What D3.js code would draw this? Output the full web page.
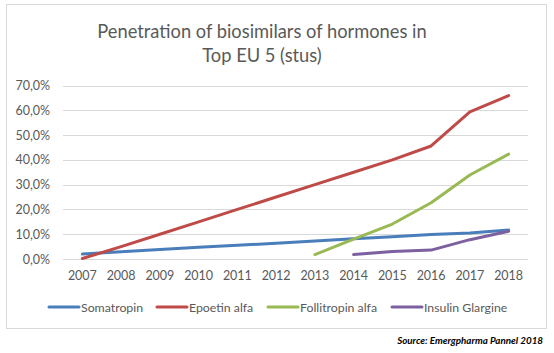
<!DOCTYPE html>
<html>
<head>
<meta charset="utf-8">
<script src="https://cdn.jsdelivr.net/npm/d3@7"></script>
<style>
  body { margin: 0; background: #fff; }
  text { font-family: Lato, "Open Sans", sans-serif; }
</style>
</head>
<body>
<svg id="chart" width="554" height="353"></svg>
<script>
const years = [2007, 2008, 2009, 2010, 2011, 2012, 2013, 2014, 2015, 2016, 2017, 2018];
const somatropin = [2.0, 2.9, 3.8, 4.7, 5.5, 6.4, 7.3, 8.2, 9.0, 9.9, 10.5, 11.7];
const epoetin = [0.2, 5, 10, 15, 20, 25, 30, 35, 40, 45.6, 59.4, 65.9];
const follitropin = [null, null, null, null, null, null, 1.8, 8.0, 14.1, 22.7, 33.9, 42.3];
const insulin = [null, null, null, null, null, null, null, 1.8, 3.0, 3.6, 7.8, 11.2];
const yTicks = [0, 10, 20, 30, 40, 50, 60, 70];
const seriesNames = ["Somatropin", "Epoetin alfa", "Follitropin alfa", "Insulin Glargine"];
const seriesColors = ["#4a7ebb", "#be4b48", "#98b954", "#7d60a0"];
const titleLines = ["Penetration of biosimilars of hormones in", "Top EU 5 (stus)"];
const sourceText = "Source: Emergpharma Pannel 2018";

const svg = d3.select("#chart");

// frame
svg.append("rect")
  .attr("x", 6.5).attr("y", 4.5)
  .attr("width", 540).attr("height", 324)
  .attr("fill", "#fff").attr("stroke", "#d9d9d9");

// title
svg.selectAll(".title")
  .data(titleLines)
  .enter()
  .append("text")
  .attr("x", 262)
  .attr("y", (d, i) => 38 + i * 24)
  .attr("text-anchor", "middle")
  .attr("font-size", "18.3px")
  .attr("fill", "#595959")
  .text((d) => d);

const x = d3.scaleBand().domain(years).range([63, 528]);
const y = d3.scaleLinear().domain([0, 70]).range([259, 85.5]);

const g = svg.append("g");

// gridlines
g.selectAll(".grid")
  .data(yTicks)
  .enter()
  .append("line")
  .attr("x1", 63).attr("x2", 528)
  .attr("y1", (d) => Math.round(y(d)) + 0.5)
  .attr("y2", (d) => Math.round(y(d)) + 0.5)
  .attr("stroke", "#d9d9d9");

// y labels
const yAxis = d3.axisLeft(y).tickValues(yTicks).tickSize(0).tickPadding(13)
  .tickFormat((d) => d.toFixed(1).replace(".", ",") + "%");
const yAxisG = svg.append("g").attr("transform", "translate(63,0)").call(yAxis);
yAxisG.select(".domain").remove();
yAxisG.selectAll("text").attr("font-size", "12.5px").attr("fill", "#595959")
  .attr("font-family", "Lato, sans-serif");

// x labels
const xAxis = d3.axisBottom(x).tickSize(0).tickPadding(12);
const xAxisG = svg.append("g").attr("transform", "translate(0,259)").call(xAxis);
xAxisG.select(".domain").remove();
xAxisG.selectAll("text").attr("font-size", "12.5px").attr("fill", "#595959")
  .attr("font-family", "Lato, sans-serif");

// lines
const allSeries = [somatropin, epoetin, follitropin, insulin];
const line = d3.line()
  .defined((d) => d != null)
  .x((d, i) => x(years[i]) + x.bandwidth() / 2)
  .y((d) => y(d));

g.selectAll(".series")
  .data(allSeries)
  .enter()
  .append("path")
  .attr("d", (d) => line(d))
  .attr("fill", "none")
  .attr("stroke", (d, i) => seriesColors[i])
  .attr("stroke-width", 3)
  .attr("stroke-linejoin", "round")
  .attr("stroke-linecap", "round");

// legend
const legendX = [49, 157, 268, 392];
const legend = svg.selectAll(".legend")
  .data(seriesNames)
  .enter()
  .append("g")
  .attr("transform", (d, i) => `translate(${legendX[i]},307)`);
legend.append("line")
  .attr("x1", 0).attr("x2", 30)
  .attr("stroke", (d, i) => seriesColors[i])
  .attr("stroke-width", 3)
  .attr("stroke-linecap", "round");
legend.append("text")
  .attr("x", 32).attr("y", 4.5)
  .attr("font-size", "12.3px")
  .attr("fill", "#595959")
  .text((d) => d);

// source
svg.append("text")
  .attr("x", 543).attr("y", 344)
  .attr("text-anchor", "end")
  .attr("font-size", "9.8px")
  .attr("font-weight", "bold")
  .attr("font-style", "italic")
  .attr("fill", "#000")
  .text(sourceText);
</script>
</body>
</html>
